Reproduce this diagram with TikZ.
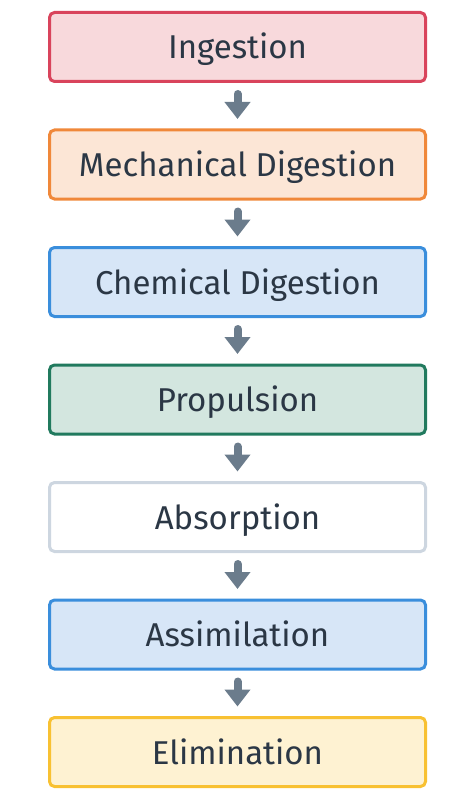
\documentclass[tikz,border=0pt]{standalone}
\usepackage{fontspec}
\setmainfont{Fira Sans}
\usetikzlibrary{arrows.meta, positioning}
\definecolor{inkText}{HTML}{2B3745}
\definecolor{arrowGray}{HTML}{6B7C8C}
\definecolor{redLine}{HTML}{D9445C}
\definecolor{redFill}{HTML}{F8D9DC}
\definecolor{orangeLine}{HTML}{F0883A}
\definecolor{orangeFill}{HTML}{FCE6D6}
\definecolor{blueLine}{HTML}{3A8EDC}
\definecolor{blueFill}{HTML}{D7E6F7}
\definecolor{greenLine}{HTML}{217A5E}
\definecolor{greenFill}{HTML}{D3E6DF}
\definecolor{grayLine}{HTML}{CDD6E0}
\definecolor{yellowLine}{HTML}{F8C132}
\definecolor{yellowFill}{HTML}{FEF2D2}
\tikzset{
    stepBox/.style={rectangle, rounded corners=5pt, draw=#1Line, fill=#1Fill, line width=3pt,
        minimum width=376pt, minimum height=69pt, inner sep=0pt, text height=24pt, text depth=0pt,
        text=inkText, font=\fontsize{33}{39}\selectfont},
    plainBox/.style={stepBox=red, draw=grayLine, fill=white},
    stepArrow/.style={-{Triangle[width=25pt, length=17pt]}, line width=8pt, line cap=round,
        draw=arrowGray, shorten <=11pt, shorten >=9.5pt},
}
\newcommand{\stepLink}[2]{
    \draw[stepArrow] (#1) -- (#2);
}

\begin{document}
\begin{tikzpicture}[x=1pt, y=1pt, node distance=45.5pt]
        \useasboundingbox (0,0) rectangle (474,-805);

        \node[stepBox=red] (ingest) at (237.5,-47) {Ingestion};
        \node[stepBox=orange, below=of ingest] (mech) {Mechanical Digestion};
        \node[stepBox=blue, below=of mech] (chem) {Chemical Digestion};
        \node[stepBox=green, below=of chem] (prop) {Propulsion};
        \node[plainBox, below=of prop] (absorb) {Absorption};
        \node[stepBox=blue, below=of absorb] (assim) {Assimilation};
        \node[stepBox=yellow, below=of assim] (elim) {Elimination};

        \stepLink{ingest}{mech}
        \stepLink{mech}{chem}
        \stepLink{chem}{prop}
        \stepLink{prop}{absorb}
        \stepLink{absorb}{assim}
        \stepLink{assim}{elim}

    \end{tikzpicture}
\end{document}
